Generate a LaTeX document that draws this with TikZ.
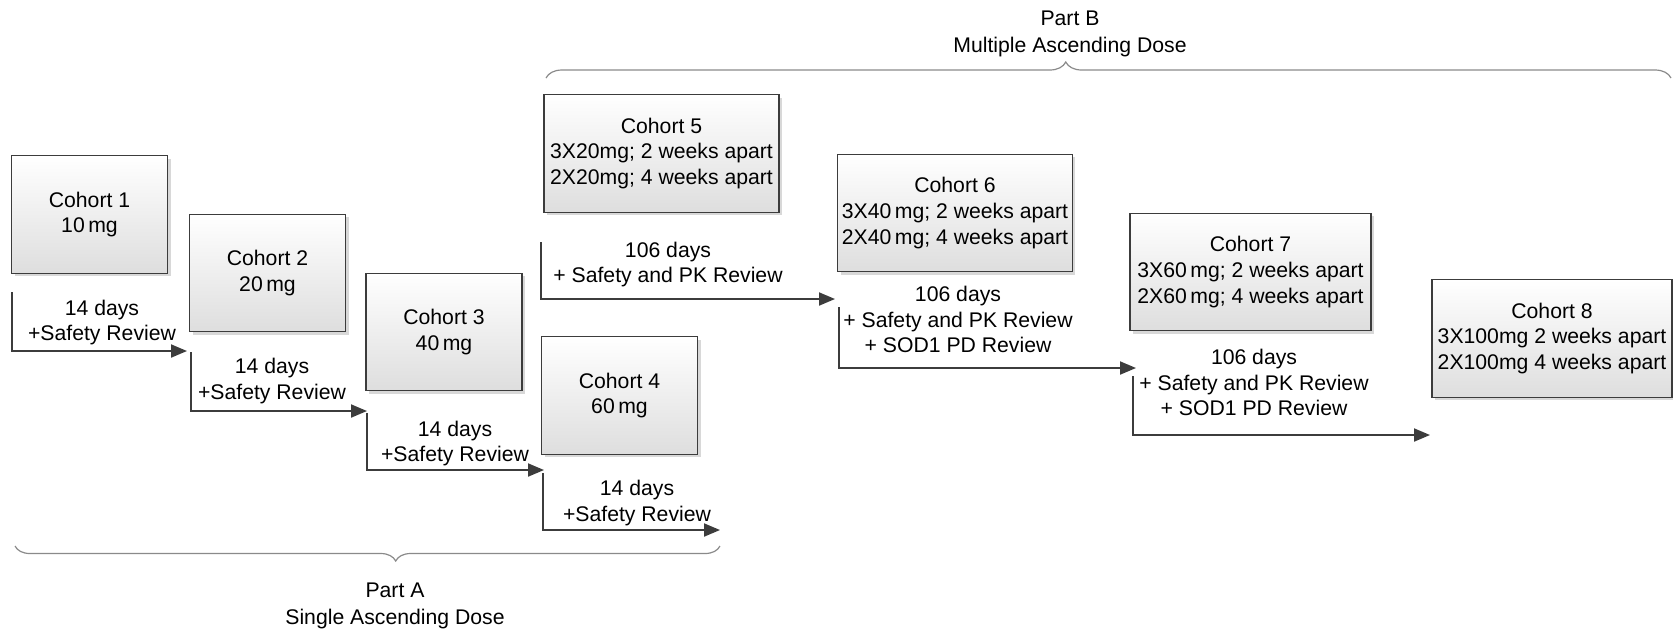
\documentclass[tikz,border=0pt]{standalone}
\usepackage{fontspec}
\setmainfont{Liberation Sans}
\usetikzlibrary{arrows.meta,shadows,decorations.pathreplacing}
\definecolor{linegray}{HTML}{3C3C3C}
\definecolor{bracegray}{HTML}{8A8A8A}

\begin{document}
\begin{tikzpicture}[x=0.5pt, y=-0.5pt,
    txt/.style = {font=\fontsize{10.6}{12.8}\selectfont, align=center, inner sep=0pt},
    cohort/.style = {txt, draw=linegray, line width=0.6pt, top color=white, bottom color=black!13,
      drop shadow={shadow xshift=1.5pt, shadow yshift=-1.5pt, fill=black!30, opacity=0.5},
      minimum width=78pt, minimum height=58.75pt},
    flow/.style = {draw=linegray, line width=1pt, -{Triangle[length=8pt, width=6.5pt]}},
    part/.style = {draw=bracegray, line width=0.6pt, decorate}]
    \useasboundingbox (0,0) rectangle (1673,629);

    \node[cohort] (c1) at (89.5,214.5) {Cohort 1\\10\,mg};
    \node[cohort] (c2) at (267.5,273) {Cohort 2\\20\,mg};
    \node[cohort] (c3) at (444,332) {Cohort 3\\40\,mg};
    \node[cohort] (c4) at (619.5,395.5) {Cohort 4\\60\,mg};
    \node[cohort, minimum width=117.5pt] (c5) at (661.5,153.5) {Cohort 5\\3X20mg; 2 weeks apart\\2X20mg; 4 weeks apart};
    \node[cohort, minimum width=117.25pt] (c6) at (955,213) {Cohort 6\\3X40\,mg; 2 weeks apart\\2X40\,mg; 4 weeks apart};
    \node[cohort, minimum width=120.5pt] (c7) at (1250.5,272) {Cohort 7\\3X60\,mg; 2 weeks apart\\2X60\,mg; 4 weeks apart};
    \node[cohort, minimum width=120pt] (c8) at (1552,338.5) {Cohort 8\\3X100mg 2 weeks apart\\2X100mg 4 weeks apart};

    \coordinate (s1) at (12,292);   \coordinate (e1) at (187,351);
    \coordinate (s2) at (191,352);  \coordinate (e2) at (367,411);
    \coordinate (s3) at (367,413);  \coordinate (e3) at (544,470);
    \coordinate (s4) at (543,473);  \coordinate (e4) at (720,530);
    \coordinate (s5) at (541,242);  \coordinate (e5) at (835,299);
    \coordinate (s6) at (839,307);  \coordinate (e6) at (1136,368);
    \coordinate (s7) at (1133,376); \coordinate (e7) at (1430,435);

    \draw[flow] (s1) |- (e1);
    \draw[flow] (s2) |- (e2);
    \draw[flow] (s3) |- (e3);
    \draw[flow] (s4) |- (e4);
    \draw[flow] (s5) |- (e5);
    \draw[flow] (s6) |- (e6);
    \draw[flow] (s7) |- (e7);

    \node[txt] (l1) at (102,322.5) {14 days\\+Safety Review};
    \node[txt] (l2) at (272,381) {14 days\\+Safety Review};
    \node[txt] (l3) at (455,443.5) {14 days\\+Safety Review};
    \node[txt] (l4) at (637,503) {14 days\\+Safety Review};
    \node[txt] (l5) at (668,264.5) {106 days\\+ Safety and PK Review};
    \node[txt] (l6) at (958,319.5) {106 days\\+ Safety and PK Review\\+ SOD1 PD Review};
    \node[txt] (l7) at (1254,382.5) {106 days\\+ Safety and PK Review\\+ SOD1 PD Review};

    \coordinate (pa1) at (15,546);  \coordinate (pa2) at (720,546);
    \coordinate (pb1) at (546,78);  \coordinate (pb2) at (1671,78);
    \draw[part, decoration={brace, mirror, amplitude=7.5pt, aspect=0.54}] (pa1) -- (pa2);
    \draw[part, decoration={brace, amplitude=8pt, aspect=0.462}] (pb1) -- (pb2);

    \node[txt] (pA) at (395,605.5) {Part A\\[0.7pt]Single Ascending Dose};
    \node[txt] (pB) at (1070,33.5) {Part B\\[0.7pt]Multiple Ascending Dose};
\end{tikzpicture}
\end{document}
